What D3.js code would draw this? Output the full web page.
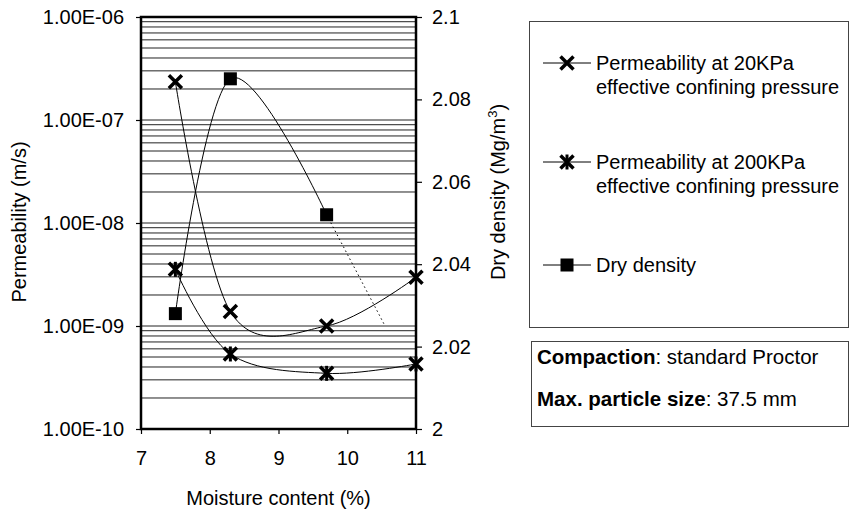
<!DOCTYPE html>
<html>
<head>
<meta charset="utf-8">
<script src="https://cdn.jsdelivr.net/npm/d3@7"></script>
<style>
  html, body { margin: 0; padding: 0; background: #fff; }
  svg { display: block; font-family: "Liberation Sans", Arial, sans-serif; }
</style>
</head>
<body>
<svg id="chart" width="849" height="513"></svg>
<script>
// Moisture content (%) at which samples were tested
const moisture = [7.5, 8.3, 9.7, 11];
// Permeability (m/s) at two effective confining pressures
const perm20 = [2.35e-7, 1.38e-9, 1.0e-9, 2.97e-9];
const perm200 = [3.55e-9, 5.35e-10, 3.47e-10, 4.28e-10];
// Dry density (Mg/m3) measured on the same samples
const densityX = [7.5, 8.3, 9.7];
const densityY = [2.028, 2.085, 2.052];
// Dotted extension of the dry density curve
const densityTrendX = [9.7, 10.55];
const densityTrendY = [2.052, 2.025];

// Axis ticks
const xTicks = [7, 8, 9, 10, 11];
const permTicks = [1e-10, 1e-9, 1e-8, 1e-7, 1e-6];
const permTickLabels = ["1.00E-10", "1.00E-09", "1.00E-08", "1.00E-07", "1.00E-06"];
const densityTicks = [2, 2.02, 2.04, 2.06, 2.08, 2.1];
const densityTickLabels = ["2", "2.02", "2.04", "2.06", "2.08", "2.1"];

const svg = d3.select("#chart");
const plotL = 141, plotR = 416, plotT = 17, plotB = 429;

const x = d3.scaleLinear().domain([7, 11]).range([plotL, plotR]);
const yPerm = d3.scaleLog().domain([1e-10, 1e-6]).range([plotB, plotT]);
const yDens = d3.scaleLinear().domain([2, 2.1]).range([plotB, plotT]);

// Horizontal grid at every log sub-division
const gridVals = [];
for (let e = -10; e < -6; e++) for (let m = 1; m <= 9; m++) gridVals.push(m * Math.pow(10, e));
svg.append("g").selectAll("line").data(gridVals).join("line")
  .attr("x1", plotL).attr("x2", plotR)
  .attr("y1", d => yPerm(d)).attr("y2", d => yPerm(d))
  .attr("stroke", "#222").attr("stroke-width", 1);

// Axes
const fontSize = "20px";
const gL = svg.append("g").attr("transform", `translate(${plotL},0)`)
  .call(d3.axisLeft(yPerm).tickValues(permTicks).tickSize(5).tickPadding(12)
    .tickFormat((d, i) => permTickLabels[i]));
const gR = svg.append("g").attr("transform", `translate(${plotR},0)`)
  .call(d3.axisRight(yDens).tickValues(densityTicks).tickSize(6).tickPadding(10)
    .tickFormat((d, i) => densityTickLabels[i]));
const gB = svg.append("g").attr("transform", `translate(0,${plotB})`)
  .call(d3.axisBottom(x).tickValues(xTicks).tickSize(5).tickPadding(17)
    .tickFormat(d3.format("d")));
[gL, gR, gB].forEach(g => {
  g.select(".domain").remove();
  g.selectAll("line").attr("stroke", "#000").attr("stroke-width", 1.2);
  g.selectAll("text").attr("font-size", fontSize).attr("fill", "#000")
    .attr("font-family", "Liberation Sans, Arial, sans-serif");
});

// Plot frame
svg.append("rect").attr("x", plotL).attr("y", plotT)
  .attr("width", plotR - plotL).attr("height", plotB - plotT)
  .attr("fill", "none").attr("stroke", "#000").attr("stroke-width", 2.5);

// Axis titles
svg.append("text").attr("transform", "translate(26,222) rotate(-90)")
  .attr("text-anchor", "middle").attr("font-size", fontSize)
  .text("Permeability (m/s)");
const rt = svg.append("text").attr("transform", "translate(505,192) rotate(-90)")
  .attr("text-anchor", "middle").attr("font-size", fontSize);
rt.append("tspan").text("Dry density (Mg/m");
rt.append("tspan").attr("font-size", "13px").attr("dy", "-8").text("3");
rt.append("tspan").attr("dy", "8").text(")");
svg.append("text").attr("x", (plotL + plotR) / 2).attr("y", 505)
  .attr("text-anchor", "middle").attr("font-size", fontSize)
  .text("Moisture content (%)");

// Smoothed series lines
const smooth = d3.curveCardinal.tension(0);
const permLine = d3.line().x(d => x(d[0])).y(d => yPerm(d[1])).curve(smooth);
const densLine = d3.line().x(d => x(d[0])).y(d => yDens(d[1])).curve(smooth);
const lines = svg.append("g").attr("fill", "none").attr("stroke", "#000").attr("stroke-width", 1);
lines.append("path").attr("d", permLine(d3.zip(moisture, perm20)));
lines.append("path").attr("d", permLine(d3.zip(moisture, perm200)));
lines.append("path").attr("d", densLine(d3.zip(densityX, densityY)));
lines.append("path")
  .attr("d", d3.line().x(d => x(d[0])).y(d => yDens(d[1]))(d3.zip(densityTrendX, densityTrendY)))
  .attr("stroke-dasharray", "1.5,3");

// Marker shapes
function cross(g, cx, cy) {
  const s = 6.5;
  g.append("path").attr("d", `M${cx - s},${cy - s}L${cx + s},${cy + s}M${cx - s},${cy + s}L${cx + s},${cy - s}`)
    .attr("stroke", "#000").attr("stroke-width", 3.5).attr("fill", "none");
}
function star(g, cx, cy) {
  cross(g, cx, cy);
  g.append("path").attr("d", `M${cx},${cy - 7.5}L${cx},${cy + 7.5}`)
    .attr("stroke", "#000").attr("stroke-width", 3).attr("fill", "none");
}
function square(g, cx, cy) {
  g.append("rect").attr("x", cx - 6.5).attr("y", cy - 6.5)
    .attr("width", 13).attr("height", 13).attr("fill", "#000");
}

const marks = svg.append("g");
moisture.forEach((m, i) => cross(marks, x(m), yPerm(perm20[i])));
moisture.forEach((m, i) => star(marks, x(m), yPerm(perm200[i])));
densityX.forEach((m, i) => square(marks, x(m), yDens(densityY[i])));

// Legend
const legend = svg.append("g");
legend.append("rect").attr("x", 529.5).attr("y", 21.5).attr("width", 319).attr("height", 306)
  .attr("fill", "#fff").attr("stroke", "#444").attr("stroke-width", 1);
const legendItems = [
  { y: 63, lines: ["Permeability at 20KPa", "effective confining pressure"], mark: cross },
  { y: 162, lines: ["Permeability at 200KPa", "effective confining pressure"], mark: star },
  { y: 265, lines: ["Dry density"], mark: square }
];
legendItems.forEach(it => {
  legend.append("line").attr("x1", 543).attr("x2", 591).attr("y1", it.y).attr("y2", it.y)
    .attr("stroke", "#000").attr("stroke-width", 1);
  it.mark(legend, 567, it.y);
  it.lines.forEach((t, j) => {
    legend.append("text").attr("x", 596).attr("y", it.y + 7 + j * 24)
      .attr("font-size", fontSize).text(t);
  });
});

// Test conditions box
const info = svg.append("g");
info.append("rect").attr("x", 531.5).attr("y", 341.5).attr("width", 317).attr("height", 85)
  .attr("fill", "#fff").attr("stroke", "#444").attr("stroke-width", 1);
const infoRows = [
  { y: 364, bold: "Compaction", rest: ": standard Proctor" },
  { y: 406, bold: "Max. particle size", rest: ": 37.5 mm" }
];
infoRows.forEach(r => {
  const t = info.append("text").attr("x", 537).attr("y", r.y).attr("font-size", "20.5px");
  t.append("tspan").attr("font-weight", "bold").text(r.bold);
  t.append("tspan").text(r.rest);
});
</script>
</body>
</html>
